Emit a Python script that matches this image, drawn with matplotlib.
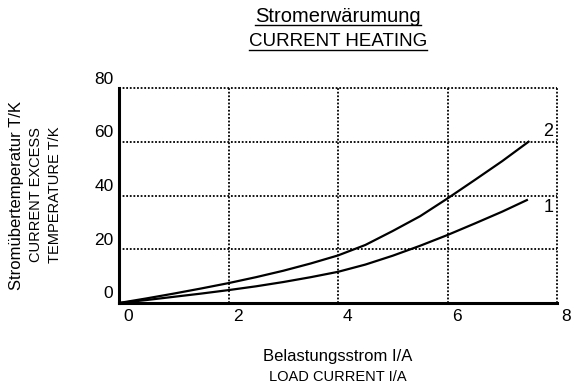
import matplotlib
matplotlib.use("Agg")
import matplotlib.pyplot as plt
import matplotlib.transforms as mtransforms
from matplotlib.lines import Line2D

plt.rcParams['font.family'] = ['Liberation Sans', 'DejaVu Sans']

# data
current_2 = [0, 0.5, 1, 1.5, 2, 2.5, 3, 3.5, 4, 4.5, 5, 5.5, 6, 6.5, 7, 7.48]
temp_2 = [0, 1.7, 3.5, 5.4, 7.4, 9.6, 12.0, 14.7, 17.7, 21.6, 26.8, 32.3, 38.9, 45.8, 52.8, 60]
current_1 = [0, 0.5, 1, 1.5, 2, 2.5, 3, 3.5, 4, 4.5, 5, 5.5, 6, 6.5, 7, 7.45]
temp_1 = [0, 1.1, 2.3, 3.5, 4.8, 6.2, 7.8, 9.6, 11.6, 14.3, 17.6, 21.3, 25.3, 29.6, 34.0, 38.3]

x_ticks = [0, 2, 4, 6, 8]
y_ticks = [0, 20, 40, 60, 80]

fig = plt.figure(figsize=(5.71, 3.85), dpi=100)
ax = fig.add_axes([119/571, 82/385, 438/571, 215/385])

ax.set_xlim(0, 8)
ax.set_ylim(0, 80)

# dotted grid, including the lines on the top/right border
for xv in x_ticks[1:]:
    ax.plot([xv, xv], [0, 80], color='black', lw=1.3, ls=(0, (1, 1)), clip_on=False, zorder=1)
for yv in y_ticks[1:]:
    ax.plot([0, 8], [yv, yv], color='black', lw=1.3, ls=(0, (1, 1)), clip_on=False, zorder=1)

ax.plot(current_2, temp_2, color='black', lw=1.6, zorder=3)
ax.plot(current_1, temp_1, color='black', lw=1.6, zorder=3)

ax.text(7.83, 64, '2', fontsize=13, ha='center', va='center')
ax.text(7.85, 35.7, '1', fontsize=13, ha='center', va='center')

for s in ['top', 'right']:
    ax.spines[s].set_visible(False)
for s in ['left', 'bottom']:
    ax.spines[s].set_linewidth(2.2)

ax.set_xticks(x_ticks)
ax.set_yticks(y_ticks)
ax.tick_params(length=0, labelsize=12.5)
ax.tick_params(axis='x', pad=4)
ax.tick_params(axis='y', pad=4)

# labels sit beside the grid lines, not on them
dx = mtransforms.ScaledTranslation(0.09, 0, fig.dpi_scale_trans)
dy = mtransforms.ScaledTranslation(0, 0.105, fig.dpi_scale_trans)
for lab in ax.get_xticklabels():
    lab.set_transform(lab.get_transform() + dx)
for lab in ax.get_yticklabels():
    lab.set_transform(lab.get_transform() + dy)

# y axis label, three lines
fig.text(17/571, 1 - 195/385, 'Stromübertemperatur T/K', rotation=90, fontsize=12, ha='center', va='center')
fig.text(36/571, 1 - 195/385, 'CURRENT EXCESS', rotation=90, fontsize=10.5, ha='center', va='center')
fig.text(55/571, 1 - 195/385, 'TEMPERATURE T/K', rotation=90, fontsize=10.5, ha='center', va='center')

# x axis label
fig.text(338/571, 1 - 357/385, 'Belastungsstrom I/A', fontsize=12, ha='center', va='center')
fig.text(338/571, 1 - 377/385, 'LOAD CURRENT I/A', fontsize=10.5, ha='center', va='center')

# title, underlined
t1 = fig.text(338/571, 1 - 16/385, 'Stromerwärumung', fontsize=14.5, ha='center', va='center')
t2 = fig.text(338/571, 1 - 42/385, 'CURRENT HEATING', fontsize=13.5, ha='center', va='center')

fig.canvas.draw()
r = fig.canvas.get_renderer()
for t in [t1, t2]:
    bb = t.get_window_extent(r)
    yy = bb.y0 + 1
    fig.add_artist(Line2D([bb.x0, bb.x1], [yy, yy], transform=None, color='black', lw=1.0))

fig.savefig('out.png', dpi=100)
